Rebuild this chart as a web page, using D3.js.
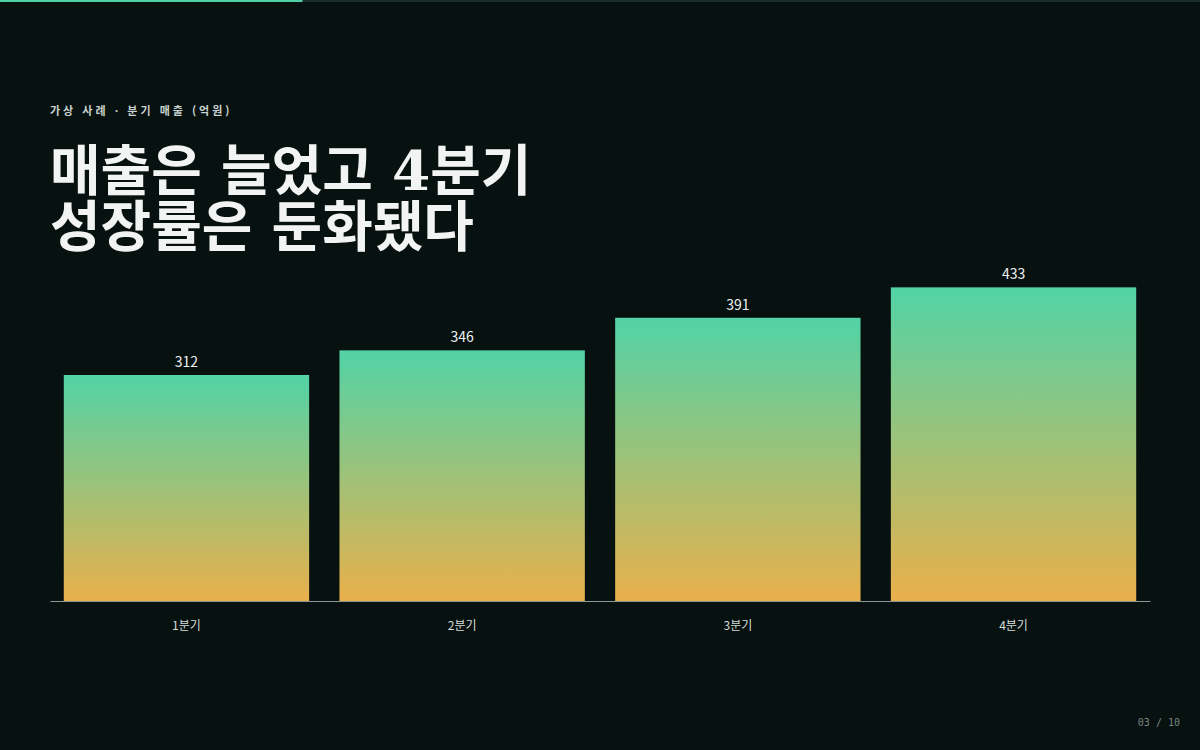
<!DOCTYPE html>
<html lang="ko">
<head>
<meta charset="utf-8">
<script src="https://cdn.jsdelivr.net/npm/d3@7"></script>
<style>
  html, body { margin: 0; padding: 0; background: #071110; }
  #chart { width: 1200px; height: 750px; }
</style>
</head>
<body>
<div id="chart"></div>
<script>
const quarters = ["1분기", "2분기", "3분기", "4분기"]
const revenue = [312, 346, 391, 433]
const eyebrow = "가상 사례 · 분기 매출 (억원)"
const titleLines = ["매출은 늘었고 4분기", "성장률은 둔화됐다"]
const pageLabel = "03 / 10"
const progress = 0.252

const W = 1200, H = 750
const margin = {left: 50, right: 50, top: 256, bottom: 149}

const svg = d3.select("#chart").append("svg")
    .attr("width", W)
    .attr("height", H)
    .attr("viewBox", [0, 0, W, H])

svg.append("rect").attr("width", W).attr("height", H).attr("fill", "#071110")

// deck progress bar at the very top
svg.append("rect")
    .attr("x", 0).attr("y", 0).attr("width", W).attr("height", 2)
    .attr("fill", "#1c2e2a")
svg.append("rect")
    .attr("x", 0).attr("y", 0).attr("width", W * progress).attr("height", 2)
    .attr("fill", "#4fd1a5")

svg.append("text")
    .attr("x", 50).attr("y", 115)
    .attr("fill", "#c9d2ce")
    .attr("font-family", "'Noto Sans CJK KR', 'Noto Sans', sans-serif")
    .attr("font-size", 11)
    .attr("font-weight", 700)
    .attr("letter-spacing", 3)
    .text(eyebrow)

svg.append("g")
    .selectAll("text")
    .data(titleLines)
    .join("text")
      .attr("x", 50)
      .attr("y", (d, i) => 190 + i * 56)
      .attr("fill", "#f2f4f3")
      .attr("font-family", "'DejaVu Serif', 'Noto Sans CJK KR', serif")
      .attr("font-size", 55)
      .attr("font-weight", 700)
      .text(d => d)

const defs = svg.append("defs")
const grad = defs.append("linearGradient")
    .attr("id", "barFill")
    .attr("x1", 0).attr("y1", 0).attr("x2", 0).attr("y2", 1)
grad.append("stop").attr("offset", "0%").attr("stop-color", "#52d3a6")
grad.append("stop").attr("offset", "100%").attr("stop-color", "#e9b04b")

const x = d3.scaleBand()
    .domain(quarters)
    .range([margin.left, W - margin.right])
    .paddingInner(0.11)
    .paddingOuter(0.05)

const y = d3.scaleLinear()
    .domain([0, d3.max(revenue) * 1.1])
    .range([H - margin.bottom, margin.top])

const data = quarters.map((q, i) => ({q, v: revenue[i]}))

svg.append("g")
    .selectAll("rect")
    .data(data)
    .join("rect")
      .attr("x", d => x(d.q))
      .attr("y", d => y(d.v))
      .attr("width", x.bandwidth())
      .attr("height", d => y(0) - y(d.v))
      .attr("fill", "url(#barFill)")

svg.append("g")
    .selectAll("text")
    .data(data)
    .join("text")
      .attr("x", d => x(d.q) + x.bandwidth() / 2)
      .attr("y", d => y(d.v) - 8)
      .attr("text-anchor", "middle")
      .attr("fill", "#eef2f0")
      .attr("font-family", "'Noto Sans CJK KR', 'Noto Sans', sans-serif")
      .attr("font-size", 14)
      .text(d => d.v)

// x axis: baseline plus category labels
const xAxis = svg.append("g")
    .attr("transform", `translate(0,${y(0)})`)
    .call(d3.axisBottom(x).tickSize(0).tickPadding(20))
xAxis.select(".domain").attr("stroke", "#8a9793").attr("stroke-width", 1)
xAxis.selectAll("text")
    .attr("fill", "#d5dcd9")
    .attr("font-family", "'Noto Sans CJK KR', 'Noto Sans', sans-serif")
    .attr("font-size", 12)

svg.append("text")
    .attr("x", 1180).attr("y", 726)
    .attr("text-anchor", "end")
    .attr("fill", "#7a8582")
    .attr("font-family", "'DejaVu Sans Mono', monospace")
    .attr("font-size", 10)
    .text(pageLabel)
</script>
</body>
</html>
